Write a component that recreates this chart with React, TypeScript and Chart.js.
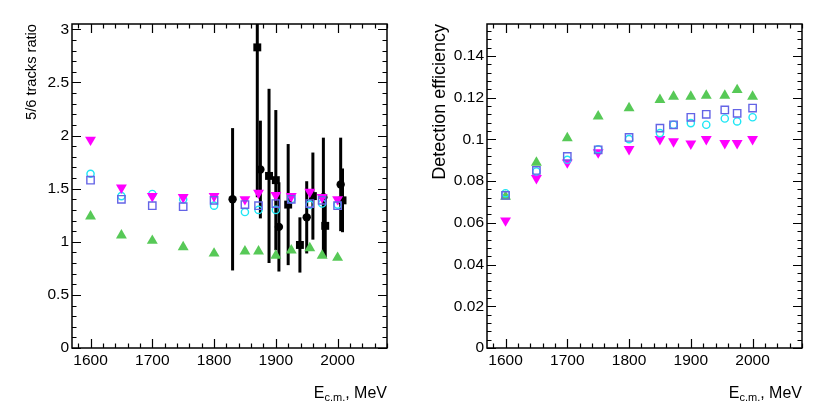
import { useEffect, useRef } from 'react';
import { Chart, registerables } from 'chart.js';

Chart.register(...registerables);

// ---------- data ----------
const energies = [1600, 1650, 1700, 1750, 1800, 1850, 1872, 1900, 1925, 1955, 1975, 2000];

// left panel: 5/6 tracks ratio (simulation)
const ratioGreen = [1.24, 1.06, 1.01, 0.95, 0.89, 0.91, 0.91, 0.87, 0.92, 0.94, 0.87, 0.85];
const ratioMagenta = [1.96, 1.51, 1.43, 1.42, 1.43, 1.40, 1.46, 1.44, 1.43, 1.47, 1.42, 1.40];
const ratioCyan = [1.64, 1.43, 1.45, 1.40, 1.34, 1.28, 1.30, 1.30, 1.40, 1.35, 1.36, 1.35];
const ratioBlue = [1.58, 1.40, 1.34, 1.33, 1.39, 1.35, 1.34, 1.36, 1.40, 1.36, 1.39, 1.34];

// left panel: experimental data (black)
const dataCircleE = [1830, 1875, 1905, 1950, 1977, 2005];
const dataCircleR = [1.40, 1.68, 1.14, 1.23, 1.42, 1.54];
const dataCircleErr = [0.67, 0.46, 0.42, 0.34, 0.56, 0.44];
const dataSquareE = [1870, 1889, 1900, 1920, 1939, 1960, 1980, 2008];
const dataSquareR = [2.83, 1.62, 1.58, 1.35, 0.97, 1.43, 1.15, 1.39];
const dataSquareErr = [1.41, 0.82, 0.66, 0.57, 0.26, 0.41, 0.30, 0.30];

// right panel: detection efficiency
const effGreen = [0.0726, 0.0889, 0.1006, 0.111, 0.115, 0.119, 0.1205, 0.1205, 0.121, 0.121, 0.1237, 0.1205];
const effBlue = [0.0731, 0.0851, 0.0918, 0.095, 0.1009, 0.1054, 0.107, 0.1106, 0.112, 0.1141, 0.1125, 0.115];
const effCyan = [0.0742, 0.0846, 0.0902, 0.0953, 0.1001, 0.103, 0.107, 0.1078, 0.107, 0.110, 0.1086, 0.1106];
const effMagenta = [0.0611, 0.0814, 0.0889, 0.0937, 0.0953, 0.1001, 0.099, 0.0979, 0.1001, 0.0982, 0.0982, 0.1001];

// ticks
const xTicks = [1600, 1700, 1800, 1900, 2000];
const ratioTicks = [0, 0.5, 1, 1.5, 2, 2.5, 3];
const effTicks = [0, 0.02, 0.04, 0.06, 0.08, 0.1, 0.12, 0.14];

const X_MIN = 1570;
const X_MAX = 2080;

// ---------- styles ----------
const FONT = "'Liberation Sans', Arial, Helvetica, sans-serif";
const GREEN = '#57c957';
const MAGENTA = '#ff00ff';
const CYAN = '#1ee6f5';
const BLUE = '#6464e6';

const pts = (xs: number[], ys: number[]) => xs.map((x, i) => ({ x, y: ys[i] }));

type ErrSet = { xs: number[]; ys: number[]; errs: number[] };

function makePlugins(opts: {
  errSets: ErrSet[];
  xMinor: number;
  yMinor: number;
  yMax: number;
  yTitle: string;
  yTitleSize: number;
  yTitleX: number;
  yTitleMaxWidth?: number;
}) {
  const errorBars = {
    id: 'errorBars',
    beforeDatasetsDraw(chart: any) {
      const { ctx, chartArea: a, scales } = chart;
      ctx.save();
      ctx.beginPath();
      ctx.rect(a.left, a.top, a.right - a.left, a.bottom - a.top);
      ctx.clip();
      ctx.strokeStyle = '#000';
      ctx.lineWidth = 3;
      for (const s of opts.errSets) {
        s.xs.forEach((x, i) => {
          const px = scales.x.getPixelForValue(x);
          const y1 = scales.y.getPixelForValue(s.ys[i] - s.errs[i]);
          const y2 = scales.y.getPixelForValue(s.ys[i] + s.errs[i]);
          ctx.beginPath();
          ctx.moveTo(px, y1);
          ctx.lineTo(px, y2);
          ctx.stroke();
        });
      }
      ctx.restore();
    },
  };

  const frame = {
    id: 'frame',
    afterDraw(chart: any) {
      const { ctx, chartArea: a, scales } = chart;
      ctx.save();
      ctx.strokeStyle = '#000';
      ctx.lineWidth = 1.5;
      ctx.strokeRect(a.left, a.top, a.right - a.left, a.bottom - a.top);
      ctx.lineWidth = 1.2;
      const MAJ = 9;
      const MIN = 4.5;
      // x ticks
      const xStart = Math.ceil(X_MIN / opts.xMinor) * opts.xMinor;
      for (let v = xStart; v <= X_MAX + 1e-9; v += opts.xMinor) {
        const px = Math.round(scales.x.getPixelForValue(v)) + 0.5;
        const major = Math.abs(v / 100 - Math.round(v / 100)) < 1e-6;
        const len = major ? MAJ : MIN;
        ctx.beginPath();
        ctx.moveTo(px, a.bottom);
        ctx.lineTo(px, a.bottom - len);
        ctx.moveTo(px, a.top);
        ctx.lineTo(px, a.top + len);
        ctx.stroke();
      }
      // y ticks
      const n = Math.floor(opts.yMax / opts.yMinor + 1e-6);
      for (let i = 0; i <= n; i++) {
        const v = i * opts.yMinor;
        const py = Math.round(scales.y.getPixelForValue(v)) + 0.5;
        const major = i % 5 === 0;
        const len = major ? MAJ : MIN;
        ctx.beginPath();
        ctx.moveTo(a.left, py);
        ctx.lineTo(a.left + len, py);
        ctx.moveTo(a.right, py);
        ctx.lineTo(a.right - len, py);
        ctx.stroke();
      }

      // y title
      ctx.fillStyle = '#000';
      ctx.font = `${opts.yTitleSize}px ${FONT}`;
      ctx.save();
      ctx.translate(opts.yTitleX, a.top);
      ctx.rotate(-Math.PI / 2);
      ctx.textAlign = 'right';
      ctx.textBaseline = 'alphabetic';
      if (opts.yTitleMaxWidth) ctx.fillText(opts.yTitle, 0, 0, opts.yTitleMaxWidth);
      else ctx.fillText(opts.yTitle, 0, 0);
      ctx.restore();

      // x title: E_{c.m.}, MeV
      const big = `16px ${FONT}`;
      const small = `11px ${FONT}`;
      ctx.textAlign = 'left';
      ctx.textBaseline = 'alphabetic';
      ctx.font = big;
      const wE = ctx.measureText('E').width;
      const wRest = ctx.measureText(', MeV').width;
      ctx.font = small;
      const wSub = ctx.measureText('c.m.').width;
      const baseY = 398;
      let x = a.right - (wE + wSub + wRest);
      ctx.font = big;
      ctx.fillText('E', x, baseY);
      x += wE;
      ctx.font = small;
      ctx.fillText('c.m.', x, baseY + 3);
      x += wSub;
      ctx.font = big;
      ctx.fillText(', MeV', x, baseY);
      ctx.restore();
    },
  };
  return [errorBars, frame];
}

function makeOptions(yMax: number, yTicks: number[]) {
  return {
    responsive: false,
    animation: false as const,
    layout: { padding: { top: 24, right: 28, bottom: 0, left: 0 } },
    plugins: { legend: { display: false }, tooltip: { enabled: false } },
    scales: {
      x: {
        type: 'linear' as const,
        min: X_MIN,
        max: X_MAX,
        grid: { display: false, drawTicks: false },
        border: { display: false },
        afterBuildTicks: (s: any) => {
          s.ticks = xTicks.map((v) => ({ value: v }));
        },
        afterFit: (s: any) => {
          s.height = 71;
        },
        ticks: {
          padding: 3,
          color: '#000',
          font: { family: FONT, size: 15.5 },
          maxRotation: 0,
          autoSkip: false,
          callback: (v: any) => String(v),
        },
      },
      y: {
        type: 'linear' as const,
        min: 0,
        max: yMax,
        grid: { display: false, drawTicks: false },
        border: { display: false },
        afterBuildTicks: (s: any) => {
          s.ticks = yTicks.map((v) => ({ value: v }));
        },
        afterFit: (s: any) => {
          s.width = 72;
        },
        ticks: {
          padding: 3,
          color: '#000',
          font: { family: FONT, size: 15.5 },
          autoSkip: false,
          callback: (v: any) => String(+Number(v).toFixed(4)),
        },
      },
    },
  };
}

function sim(label: string, data: any[], style: string, color: string, filled: boolean, radius: number, rotation: number, order: number) {
  return {
    label,
    data,
    showLine: false,
    pointStyle: style,
    pointRadius: radius,
    pointRotation: rotation,
    pointBackgroundColor: filled ? color : 'rgba(0,0,0,0)',
    pointBorderColor: color,
    pointBorderWidth: filled ? 0 : 1.4,
    order,
  };
}

function LeftChart() {
  const ref = useRef<HTMLCanvasElement>(null);
  useEffect(() => {
    const chart = new Chart(ref.current as HTMLCanvasElement, {
      type: 'scatter',
      data: {
        datasets: [
          sim('blue', pts(energies, ratioBlue), 'rect', BLUE, false, 5.2, 0, 0),
          sim('magenta', pts(energies, ratioMagenta), 'triangle', MAGENTA, true, 6.3, 180, 1),
          sim('cyan', pts(energies, ratioCyan), 'circle', CYAN, false, 3.6, 0, 2),
          sim('green', pts(energies, ratioGreen), 'triangle', GREEN, true, 6.3, 0, 3),
          sim('data squares', pts(dataSquareE, dataSquareR), 'rect', '#000', true, 5.6, 0, 4),
          sim('data circles', pts(dataCircleE, dataCircleR), 'circle', '#000', true, 4.2, 0, 5),
        ],
      },
      options: makeOptions(3.05, ratioTicks) as any,
      plugins: makePlugins({
        errSets: [
          { xs: dataCircleE, ys: dataCircleR, errs: dataCircleErr },
          { xs: dataSquareE, ys: dataSquareR, errs: dataSquareErr },
        ],
        xMinor: 20,
        yMinor: 0.1,
        yMax: 3.05,
        yTitle: '5/6 tracks ratio',
        yTitleSize: 15.5,
        yTitleX: 35.5,
        yTitleMaxWidth: 96,
      }) as any,
    });
    return () => chart.destroy();
  }, []);
  return <canvas ref={ref} width={415} height={419} style={{ position: 'absolute', left: 0, top: 0, width: 415, height: 419 }} />;
}

function RightChart() {
  const ref = useRef<HTMLCanvasElement>(null);
  useEffect(() => {
    const chart = new Chart(ref.current as HTMLCanvasElement, {
      type: 'scatter',
      data: {
        datasets: [
          sim('blue', pts(energies, effBlue), 'rect', BLUE, false, 5.2, 0, 0),
          sim('cyan', pts(energies, effCyan), 'circle', CYAN, false, 3.6, 0, 1),
          sim('magenta', pts(energies, effMagenta), 'triangle', MAGENTA, true, 6.3, 180, 2),
          sim('green', pts(energies, effGreen), 'triangle', GREEN, true, 6.3, 0, 3),
        ],
      },
      options: makeOptions(0.1553, effTicks) as any,
      plugins: makePlugins({
        errSets: [],
        xMinor: 20,
        yMinor: 0.004,
        yMax: 0.1553,
        yTitle: 'Detection efficiency',
        yTitleSize: 18,
        yTitleX: 29.5,
      }) as any,
    });
    return () => chart.destroy();
  }, []);
  return <canvas ref={ref} width={415} height={419} style={{ position: 'absolute', left: 415, top: 0, width: 415, height: 419 }} />;
}

export default function App() {
  return (
    <div style={{ position: 'absolute', left: 0, top: 0, width: 830, height: 419, background: '#fff', overflow: 'hidden' }}>
      <LeftChart />
      <RightChart />
    </div>
  );
}
